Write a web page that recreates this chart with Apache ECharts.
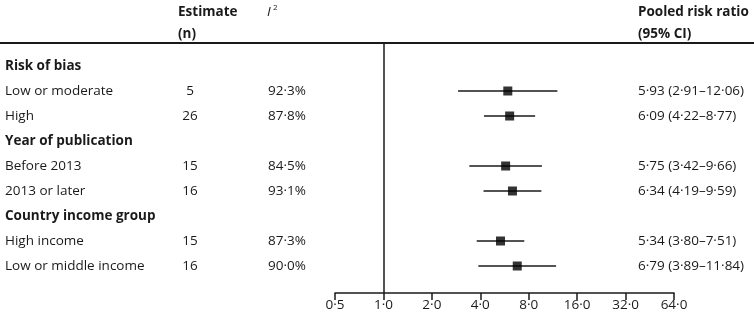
<!DOCTYPE html>
<html lang="en">
  <head>
    <meta charset="UTF-8" />
    <title>Pooled risk ratio forest plot</title>
    <script src="https://cdn.jsdelivr.net/npm/echarts@6/dist/echarts.min.js"></script>
    <style>
      html,
      body {
        margin: 0;
        padding: 0;
        background: #fff;
      }
      #main {
        width: 754px;
        height: 318px;
      }
    </style>
  </head>
  <body>
    <div id="main"></div>
    <script>
      const rowLabels = [
        "Risk of bias",
        "Low or moderate",
        "High",
        "Year of publication",
        "Before 2013",
        "2013 or later",
        "Country income group",
        "High income",
        "Low or middle income",
      ];
      const isHeading = [true, false, false, true, false, false, true, false, false];
      const estimateN = [null, 5, 26, null, 15, 16, null, 15, 16];
      const i2 = [null, 92.3, 87.8, null, 84.5, 93.1, null, 87.3, 90.0];
      const riskRatio = [null, 5.93, 6.09, null, 5.75, 6.34, null, 5.34, 6.79];
      const ciLow = [null, 2.91, 4.22, null, 3.42, 4.19, null, 3.8, 3.89];
      const ciHigh = [null, 12.06, 8.77, null, 9.66, 9.59, null, 7.51, 11.84];
      const axisMin = 0.5;
      const axisMax = 64;

      const FONT = "'Open Sans', 'Noto Sans', sans-serif";
      const SIZE = "13.5px ";
      const INK = "#1a1a1a";
      const dot = (v, d) => v.toFixed(d).replace(".", "\u00b7");

      const points = [];
      const cis = [];
      riskRatio.forEach((v, i) => {
        if (v != null) {
          points.push([v, i]);
          cis.push([ciLow[i], ciHigh[i], i]);
        }
      });

      const chart = echarts.init(document.getElementById("main"));
      const option = {
        animation: false,
        textStyle: { fontFamily: FONT },
        grid: { left: 335, right: 80, top: 43, bottom: 25 },
        xAxis: {
          type: "log",
          logBase: 2,
          min: axisMin,
          max: axisMax,
          splitNumber: 7,
          axisLine: { onZero: false, lineStyle: { color: INK, width: 1.5 } },
          axisTick: { show: true, length: 7, lineStyle: { color: INK, width: 1.5 } },
          splitLine: { show: false },
          axisLabel: {
            color: INK,
            fontSize: 13.5,
            fontFamily: FONT,
            margin: 5,
            formatter: (v) => dot(Math.round(v * 10) / 10, 1),
          },
        },
        yAxis: {
          type: "value",
          inverse: true,
          min: -0.92,
          max: 9.08,
          show: false,
        },
        graphic: [
          {
            type: "line",
            shape: { x1: 0, y1: 43, x2: 754, y2: 43 },
            style: { stroke: INK, lineWidth: 2 },
          },
          {
            type: "text",
            left: 178,
            top: 1,
            style: {
              text: "Estimate\n(n)",
              font: "bold " + SIZE + FONT,
              fill: INK,
              lineHeight: 22,
            },
          },
          {
            type: "text",
            left: 267,
            top: 1,
            style: { text: "I", font: "italic " + SIZE + FONT, fill: INK, lineHeight: 22 },
          },
          {
            type: "text",
            left: 273,
            top: 4,
            style: { text: "2", font: "8px " + FONT, fill: INK },
          },
          {
            type: "text",
            left: 638,
            top: 1,
            style: {
              text: "Pooled risk ratio\n(95% CI)",
              font: "bold " + SIZE + FONT,
              fill: INK,
              lineHeight: 22,
            },
          },
        ],
        series: [
          {
            // table columns
            type: "custom",
            silent: true,
            clip: false,
            data: rowLabels.map((_, i) => [1, i]),
            renderItem: (params, api) => {
              const i = api.value(1);
              const y = api.coord([1, i])[1];
              const kids = [
                {
                  type: "text",
                  style: {
                    x: 5,
                    y: y,
                    text: rowLabels[i],
                    font: (isHeading[i] ? "bold " : "") + SIZE + FONT,
                    fill: INK,
                    verticalAlign: "middle",
                  },
                },
              ];
              if (estimateN[i] != null) {
                kids.push({
                  type: "text",
                  style: {
                    x: 190, y: y, text: String(estimateN[i]),
                    font: SIZE + FONT, fill: INK,
                    align: "center", verticalAlign: "middle",
                  },
                });
                kids.push({
                  type: "text",
                  style: {
                    x: 268, y: y, text: dot(i2[i], 1) + "%",
                    font: SIZE + FONT, fill: INK, verticalAlign: "middle",
                  },
                });
                kids.push({
                  type: "text",
                  style: {
                    x: 638, y: y,
                    text: dot(riskRatio[i], 2) + " (" + dot(ciLow[i], 2) + "\u2013" + dot(ciHigh[i], 2) + ")",
                    font: SIZE + FONT, fill: INK, verticalAlign: "middle",
                  },
                });
              }
              return { type: "group", children: kids };
            },
          },
          {
            // confidence intervals
            type: "custom",
            silent: true,
            data: cis,
            renderItem: (params, api) => {
              const a = api.coord([api.value(0), api.value(2)]);
              const b = api.coord([api.value(1), api.value(2)]);
              return {
                type: "line",
                shape: { x1: a[0], y1: a[1], x2: b[0], y2: b[1] },
                style: { stroke: INK, lineWidth: 1.6 },
              };
            },
          },
          {
            type: "scatter",
            silent: true,
            symbol: "rect",
            symbolSize: 9,
            itemStyle: { color: "#000" },
            data: points,
            markLine: {
              silent: true,
              symbol: "none",
              label: { show: false },
              lineStyle: { color: INK, width: 1.5, type: "solid" },
              data: [{ xAxis: 1 }],
            },
          },
        ],
      };
      chart.setOption(option);
    </script>
  </body>
</html>
